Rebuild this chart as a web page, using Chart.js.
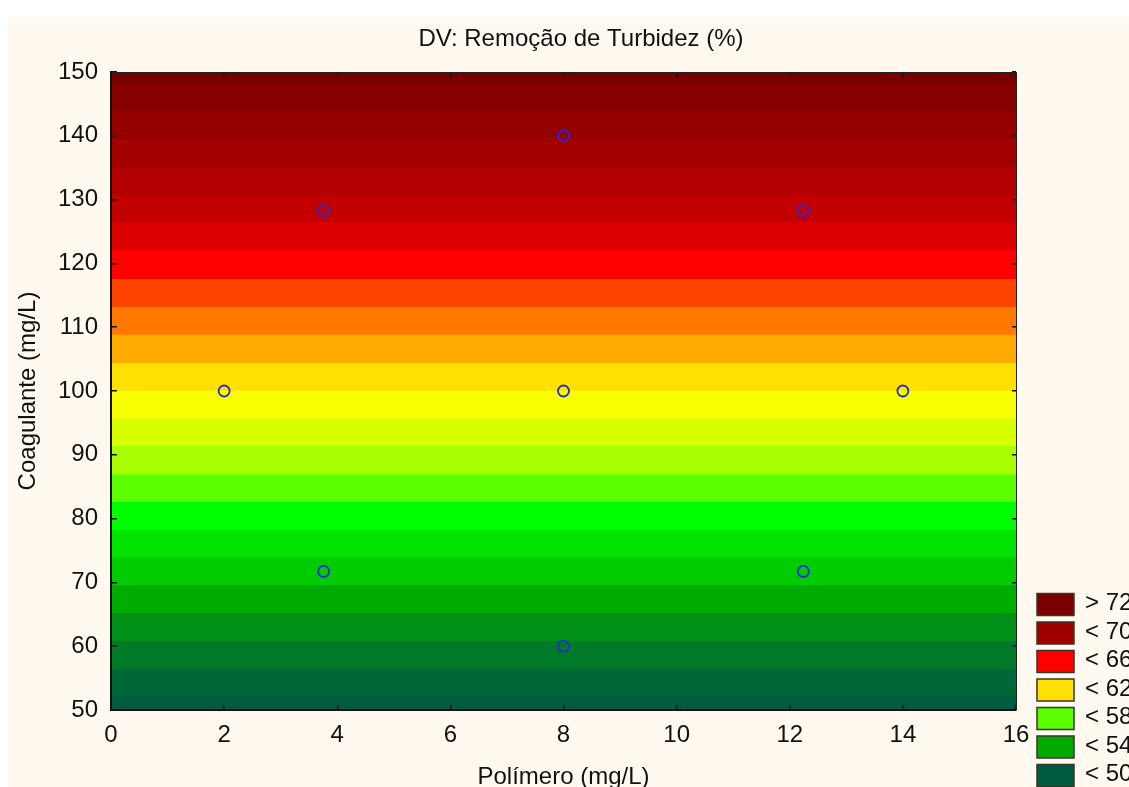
<!DOCTYPE html>
<html>
<head>
<meta charset="utf-8">
<title>DV: Remoção de Turbidez (%)</title>
<script src="https://cdn.jsdelivr.net/npm/chart.js@4.4.1/dist/chart.umd.min.js"></script>
<style>
  html, body { margin: 0; padding: 0; background: #fff; overflow: hidden; width: 1129px; height: 787px; }
  #wrap { position: absolute; left: 8px; top: 17px; width: 1146px; height: 790px; background: #fff9ef; }
</style>
</head>
<body>
<div id="wrap"><canvas id="myChart" width="1146" height="790"></canvas></div>
<script>
// contour bands, bottom to top: upper edge (Coagulante) of each band and its colour
const bandTops = [52.08, 56.47, 60.81, 65.2, 69.59, 73.93, 78.26, 82.6, 86.94, 91.38, 95.72, 100.05,
  104.39, 108.82, 113.17, 117.55, 122.05, 126.44, 130.77, 135.16, 139.55, 143.93, 148.28, 150];
const bandColors = ["#005c40", "#006838", "#007a28", "#009018", "#00ac00", "#00cc00", "#00e400", "#00ff00",
  "#5cff00", "#a8ff00", "#d8ff00", "#f8ff00", "#ffe000", "#ffaa00", "#ff7800", "#ff4400",
  "#ff0000", "#dc0000", "#c30000", "#b20000", "#a30000", "#950000", "#870000", "#760000"];

// experimental points
const polimero = [3.76, 12.24, 3.76, 12.24, 2, 14, 8, 8, 8];
const coagulante = [71.72, 71.72, 128.28, 128.28, 100, 100, 60, 140, 100];

const xTicks = [0, 2, 4, 6, 8, 10, 12, 14, 16];
const yTicks = [50, 60, 70, 80, 90, 100, 110, 120, 130, 140, 150];

const legendLabels = ["> 72", "< 70", "< 66", "< 62", "< 58", "< 54", "< 50"];
const legendColors = ["#7a0000", "#a00000", "#ff0000", "#ffe000", "#5cff00", "#00aa00", "#005c40"];

const FONT = "'Liberation Sans', Arial, sans-serif";
Chart.defaults.font.family = FONT;
Chart.defaults.font.size = 24;
Chart.defaults.color = "#111";

const points = polimero.map((x, i) => ({ x, y: coagulante[i] }));

const datasets = [
  {
    label: "pontos",
    data: points,
    showLine: false,
    pointRadius: 5.5,
    pointBorderWidth: 1.8,
    pointBorderColor: "#2828d8",
    pointBackgroundColor: "transparent",
  },
];
bandTops.forEach((top, i) => {
  datasets.push({
    label: "band" + i,
    data: [{ x: xTicks[0], y: top }, { x: xTicks[xTicks.length - 1], y: top }],
    borderColor: "transparent",
    borderWidth: 0,
    pointRadius: 0,
    backgroundColor: bandColors[i],
    fill: "start",
  });
});

const frame = {
  id: "frame",
  afterDraw(chart) {
    const { ctx, chartArea: a } = chart;
    ctx.save();
    ctx.strokeStyle = "#222";
    ctx.lineWidth = 1;
    ctx.beginPath();
    ctx.moveTo(a.left, a.top + 0.5);
    ctx.lineTo(a.right + 0.5, a.top + 0.5);
    ctx.lineTo(a.right + 0.5, a.bottom);
    ctx.stroke();
    ctx.restore();
  },
};

const legendBox = {
  id: "legendBox",
  afterDraw(chart) {
    const ctx = chart.ctx;
    ctx.save();
    ctx.font = "24px " + FONT;
    ctx.textBaseline = "middle";
    legendLabels.forEach((label, i) => {
      const y = 576.5 + i * 28.5;
      ctx.fillStyle = legendColors[i];
      ctx.fillRect(1029, y, 37, 22);
      ctx.strokeStyle = "#3a3528";
      ctx.lineWidth = 1.5;
      ctx.strokeRect(1029, y, 37, 22);
      ctx.fillStyle = "#111";
      ctx.fillText(label, 1077, y + 10);
    });
    ctx.restore();
  },
};

const config = {
  type: "line",
  data: { datasets },
  options: {
    responsive: false,
    animation: false,
    layout: { padding: 0 },
    plugins: {
      legend: { display: false },
      tooltip: { enabled: false },
      title: {
        display: true,
        text: "DV: Remoção de Turbidez (%)",
        color: "#111",
        font: { size: 24, weight: "normal" },
        padding: { top: 7.6, bottom: 18.6 },
      },
    },
    scales: {
      x: {
        type: "linear",
        min: 0,
        max: 16,
        afterBuildTicks: (scale) => { scale.ticks = xTicks.map((v) => ({ value: v })); },
        afterFit: (scale) => { scale.height = 97; },
        ticks: { padding: 11, color: "#111" },
        grid: { color: "#111", lineWidth: 1.5, drawTicks: false, z: 1 },
        border: { display: true, color: "#111", width: 2, dash: [5, 628], z: 1 },
        title: {
          display: true,
          text: "Polímero (mg/L)",
          color: "#111",
          font: { size: 24 },
          padding: { top: 0, bottom: 15 },
        },
      },
      y: {
        type: "linear",
        min: 50,
        max: 150,
        afterBuildTicks: (scale) => { scale.ticks = yTicks.map((v) => ({ value: v })); },
        afterFit: (scale) => { scale.width = 103; },
        ticks: { padding: 13, color: "#111" },
        grid: { color: "#111", lineWidth: 1.5, drawTicks: false, z: 1 },
        border: { display: true, color: "#111", width: 2, dash: [5, 895], z: 1 },
        title: {
          display: true,
          text: "Coagulante (mg/L)",
          color: "#111",
          font: { size: 24 },
          padding: { top: 6, bottom: 0 },
        },
      },
      // empty right-hand axis: reserves the legend strip so the title centres on the full figure
      yRight: {
        type: "linear",
        position: "right",
        min: 50,
        max: 150,
        afterFit: (scale) => { scale.width = 138; },
        ticks: { display: false },
        grid: { display: false },
        border: { display: false },
      },
    },
  },
  plugins: [frame, legendBox],
};

new Chart(document.getElementById("myChart"), config);
</script>
</body>
</html>
